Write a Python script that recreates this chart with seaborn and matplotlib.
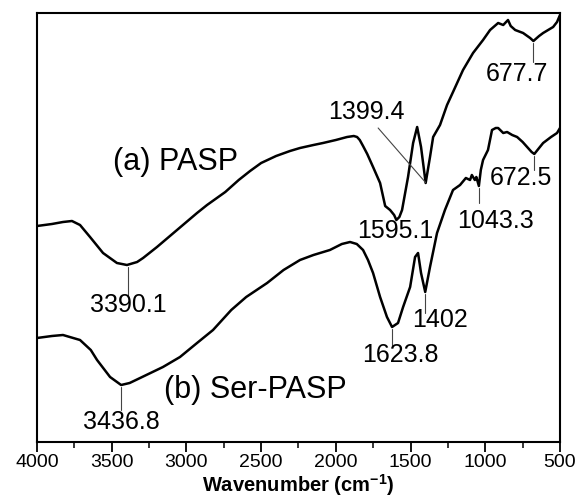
import numpy as np
import pandas as pd
import matplotlib
matplotlib.use("Agg")
import matplotlib.pyplot as plt
import seaborn as sns
from matplotlib.ticker import MultipleLocator

# ---- data ----
pasp_wn = [4000, 3900, 3826, 3766, 3712, 3645, 3558, 3465, 3398, 3330, 3290, 3197,
           3063, 2929, 2862, 2740, 2650, 2574, 2500, 2400, 2307, 2240, 2150, 2086,
           2000, 1925, 1880, 1858, 1840, 1818, 1790, 1751, 1704, 1670, 1637, 1610,
           1595, 1575, 1557, 1517, 1483, 1456, 1430, 1399, 1370, 1349, 1303, 1256,
           1216, 1149, 1082, 1015, 968, 914, 880, 848, 830, 800, 747, 700, 678, 640,
           613, 546, 520, 500]
pasp_t = [216, 218, 220, 221, 217, 205, 189, 179, 177, 180, 184, 195,
          212, 229, 237, 250, 262, 271, 279, 286, 291, 294, 297, 299,
          302, 305, 306, 305, 302, 296, 288, 275, 259, 236, 232, 227,
          222, 225, 232, 265, 299, 315, 295, 259, 285, 305, 317, 337,
          350, 372, 389, 402, 412, 419, 417, 422, 416, 412, 409, 404, 401, 406,
          409, 415, 420, 427]

ser_wn = [4000, 3900, 3826, 3712, 3640, 3598, 3511, 3437, 3380, 3310, 3157, 3043,
          2929, 2822, 2700, 2600, 2460, 2350, 2240, 2150, 2040, 1960, 1905, 1860,
          1818, 1785, 1751, 1704, 1658, 1624, 1584, 1550, 1503, 1470, 1450, 1430,
          1402, 1370, 1323, 1270, 1216, 1169, 1130, 1102, 1090, 1070, 1060, 1043,
          1030, 1015, 982, 955, 930, 914, 880, 854, 820, 787, 750, 720, 690, 672,
          640, 613, 560, 520, 500]
ser_t = [104, 106, 107, 102, 92, 82, 65, 57, 59, 64, 75, 85,
         99, 112, 132, 145, 159, 172, 182, 187, 192, 198, 200, 198,
         192, 182, 169, 145, 125, 115, 119, 135, 155, 185, 189, 169,
         150, 175, 209, 232, 252, 257, 264, 262, 267, 262, 265, 256,
         272, 282, 292, 312, 314, 314, 309, 310, 307, 305, 300, 295, 290, 288,
         294, 299, 305, 309, 314]

# peak annotations: series, peak wavenumber, text
peak_series = ["a", "b", "a", "a", "a", "b", "b", "b", "b"]
peak_wn = [3390.1, 3436.8, 1595.1, 1399.4, 677.7, 672.5, 1043.3, 1402, 1623.8]
peak_text = ["3390.1", "3436.8", "1595.1", "1399.4", "677.7", "672.5", "1043.3", "1402", "1623.8"]

sns.set_theme(style="white")
plt.rcParams['font.family'] = ['Liberation Sans', 'DejaVu Sans']
plt.rcParams['mathtext.fontset'] = 'custom'
plt.rcParams['mathtext.rm'] = 'Liberation Sans'
plt.rcParams['mathtext.bf'] = 'Liberation Sans:bold'

fig = plt.figure(figsize=(5.88, 5.0), dpi=100)
ax = fig.add_axes([0.0629, 0.116, 0.8895, 0.858])

df_a = pd.DataFrame({"wn": pasp_wn, "t": pasp_t})
df_b = pd.DataFrame({"wn": ser_wn, "t": ser_t})
sns.lineplot(data=df_a, x="wn", y="t", sort=False, color="black", lw=1.8, ax=ax)
sns.lineplot(data=df_b, x="wn", y="t", sort=False, color="black", lw=1.8, ax=ax)

ax.set_xlim(4000, 500)
ax.set_ylim(0, 429)
ax.xaxis.set_major_locator(MultipleLocator(500))
ax.xaxis.set_minor_locator(MultipleLocator(250))
ax.set_yticks([])
ax.tick_params(axis="x", which="major", direction="out", length=7, width=1.3,
               labelsize=14, colors="black", bottom=True, pad=1.5)
ax.tick_params(axis="x", which="minor", direction="out", length=4, width=1.3, bottom=True)
for s in ax.spines.values():
    s.set_linewidth(1.5)
    s.set_color("black")
ax.set_xlabel(r"Wavenumber (cm$^{\mathregular{-1}}$)", fontsize=14.5, fontweight="bold",
              labelpad=1, color="black")
ax.set_ylabel("")

# annotation layout: (line end y, label x, label y)
layout = {
    "3390.1": (145, 3390, 137),
    "3436.8": (32, 3437, 20),
    "1595.1": (None, 1604, 211),
    "1399.4": ("diag", 1798, 330),
    "677.7": (380, 787, 368),
    "672.5": (272, 760, 264),
    "1043.3": (239, 935, 221),
    "1402": (129, 1303, 122),
    "1623.8": (95, 1570, 87),
}

curves = {"a": (pasp_wn, pasp_t), "b": (ser_wn, ser_t)}
for ser, pw, txt in zip(peak_series, peak_wn, peak_text):
    cx, cy = curves[ser]
    y0 = np.interp(pw, cx[::-1], cy[::-1])
    lend, lx, ly = layout[txt]
    if lend == "diag":
        ax.plot([1717, pw], [314, y0], color="#444444", lw=0.8)
    elif lend is not None:
        ax.plot([pw, pw], [y0 - 2, lend], color="#444444", lw=0.8)
    ax.text(lx, ly, txt, ha="center", va="center", fontsize=18, color="black")

ax.text(3076, 280, "(a) PASP", ha="center", va="center", fontsize=22, color="black")
ax.text(2541, 52, "(b) Ser-PASP", ha="center", va="center", fontsize=22, color="black")

fig.savefig("out.png", dpi=100)
